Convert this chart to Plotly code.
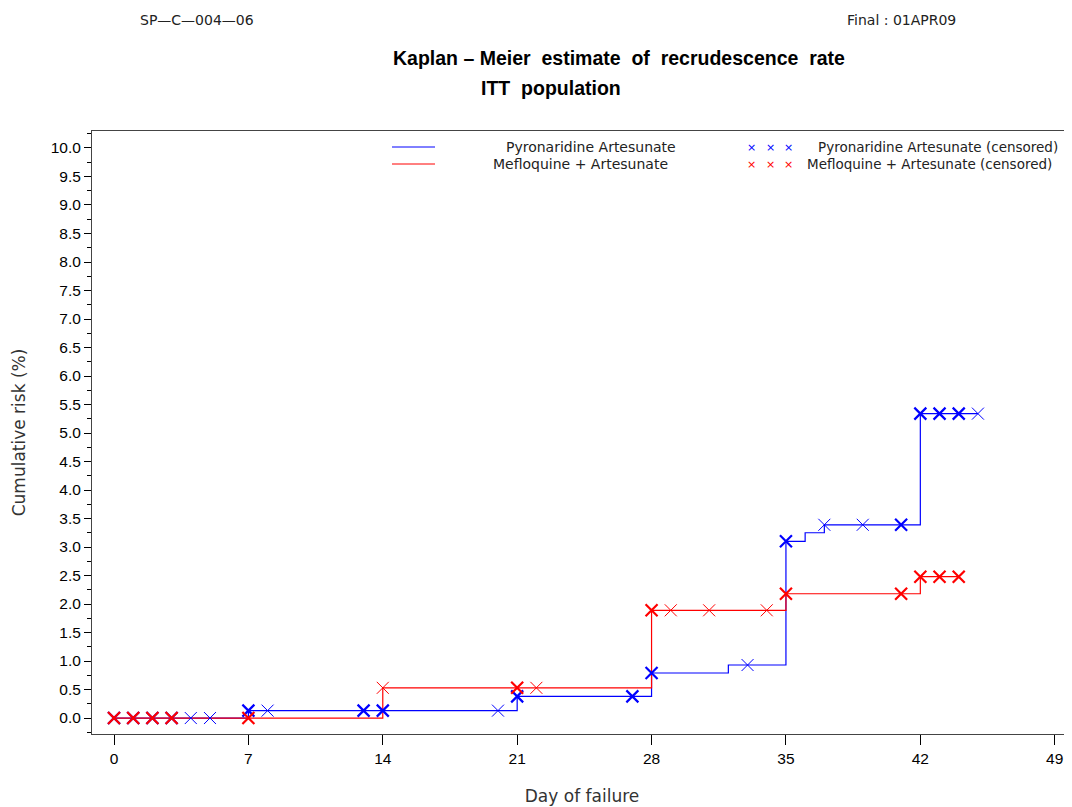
import plotly.graph_objects as go

# ---------------- data ----------------
pyro_time = [0, 7, 21, 28, 32, 35, 36, 37, 42, 45]
pyro_risk = [0.0, 0.13, 0.38, 0.79, 0.93, 3.10, 3.25, 3.39, 5.34, 5.34]
pyro_cens_day = [0, 1, 2, 3, 4, 5, 7, 8, 13, 14, 20, 21, 27, 28, 33, 35, 37, 39, 41, 42, 43, 44, 45]
pyro_cens_n = [2, 2, 2, 2, 1, 1, 2, 1, 2, 2, 1, 2, 2, 2, 1, 2, 1, 1, 2, 2, 2, 2, 1]

meflo_time = [0, 14, 28, 35, 42, 44]
meflo_risk = [0.0, 0.53, 1.89, 2.18, 2.48, 2.48]
meflo_cens_day = [0, 1, 2, 3, 7, 14, 21, 22, 28, 29, 31, 34, 35, 41, 42, 43, 44]
meflo_cens_n = [2, 2, 2, 2, 2, 1, 2, 1, 2, 1, 1, 1, 2, 2, 2, 2, 2]

x_ticks = [0, 7, 14, 21, 28, 35, 42, 49]
y_ticks = [i * 0.5 for i in range(21)]

series = [
    ("Pyronaridine Artesunate", "#0000ff", pyro_time, pyro_risk, pyro_cens_day, pyro_cens_n),
    ("Mefloquine + Artesunate", "#ff0000", meflo_time, meflo_risk, meflo_cens_day, meflo_cens_n),
]


def step_value(times, risks, d):
    v = risks[0]
    for t, r in zip(times, risks):
        if t <= d:
            v = r
    return v


fig = go.Figure()
for name, col, tt, rr, cd, cn in series:
    fig.add_trace(go.Scatter(x=tt, y=rr, mode="lines", line=dict(color=col, width=1.2, shape="hv"),
                             name=name, showlegend=False, hoverinfo="skip"))
for name, col, tt, rr, cd, cn in series:
    cy = [step_value(tt, rr, d) for d in cd]
    fig.add_trace(go.Scatter(x=cd, y=cy, mode="markers", name=name + " (censored)", showlegend=False,
                             marker=dict(symbol="x-thin", size=12, color=col,
                                         line=dict(color=col, width=[1.0 if n == 1 else 2.2 for n in cn]))))

# ---------------- layout geometry (pixels) ----------------
OFF = 8  # page body margin
W, H = 1072 - OFF, 807 - OFF
L, R, T, B = 92 - OFF, 0, 131 - OFF, 73
PW, PH = W - L - R, H - T - B


def px(x):
    return (x - OFF - L) / PW


def py(y):
    return (H - B - (y - OFF)) / PH


ann = []
thin = dict(family="DejaVu Sans", size=14, color="#222222")
ann.append(dict(x=px(138), y=py(20), text="SP—C—004—06", xanchor="left", yanchor="middle", font=thin))
ann.append(dict(x=px(845), y=py(20), text="Final : 01APR09", xanchor="left", yanchor="middle", font=thin))
bold = dict(family="Liberation Sans", size=19.5, color="#000000")
ann.append(dict(x=px(619), y=py(58), text="<b>Kaplan – Meier  estimate  of  recrudescence  rate</b>",
                xanchor="center", yanchor="middle", font=bold))
ann.append(dict(x=px(551), y=py(88), text="<b>ITT  population</b>", xanchor="center", yanchor="middle", font=bold))

leg_font = dict(family="DejaVu Sans", size=14, color="#222222")
cens_font = dict(family="DejaVu Sans", size=13.5, color="#222222")
shapes = []
for (name, col, *_), yy, tx in zip(series, [147, 164], [591, 580]):
    shapes.append(dict(type="line", xref="paper", yref="paper", x0=px(392), x1=px(435), y0=py(yy), y1=py(yy),
                       line=dict(color=col, width=1)))
    ann.append(dict(x=px(tx), y=py(yy), text=name, xanchor="center", yanchor="middle", font=leg_font))
    for mx in [751, 770, 788]:
        ann.append(dict(x=px(mx), y=py(yy), text="×", xanchor="center", yanchor="middle",
                        font=dict(family="DejaVu Sans", size=11, color=col)))
ann.append(dict(x=px(816), y=py(147), text="Pyronaridine Artesunate (censored)", xanchor="left", yanchor="middle", font=cens_font))
ann.append(dict(x=px(805), y=py(164), text="Mefloquine + Artesunate (censored)", xanchor="left", yanchor="middle", font=cens_font))

for a in ann:
    a.update(xref="paper", yref="paper", showarrow=False)

axis_title_font = dict(family="DejaVu Sans", size=17, color="#333333")
tick_font = dict(family="Liberation Sans", size=15.5, color="#000000")

fig.update_layout(
    width=W, height=H,
    margin=dict(l=L, r=R, t=T, b=B),
    paper_bgcolor="white", plot_bgcolor="white",
    annotations=ann, shapes=shapes,
    xaxis=dict(range=[-1.146, 49.9], tickvals=x_ticks, ticktext=[str(v) for v in x_ticks],
               ticks="outside", ticklen=10, tickcolor="#000", showgrid=False, zeroline=False,
               showline=True, linecolor="#444444", linewidth=1, mirror=True, tickfont=tick_font,
               title=dict(text="Day of failure", font=axis_title_font, standoff=24)),
    yaxis=dict(range=[-0.28, 10.298], tickvals=y_ticks, ticktext=[f"{v:.1f}" for v in y_ticks],
               ticks="outside", ticklen=7, tickcolor="#000", showgrid=False, zeroline=False,
               showline=True, linecolor="#444444", linewidth=1, tickfont=tick_font,
               minor=dict(dtick=0.25, tick0=0, ticks="outside", ticklen=4, tickcolor="#000"),
               title=dict(text="Cumulative risk (%)", font=axis_title_font, standoff=20)),
)

fig.write_html("out.html")
